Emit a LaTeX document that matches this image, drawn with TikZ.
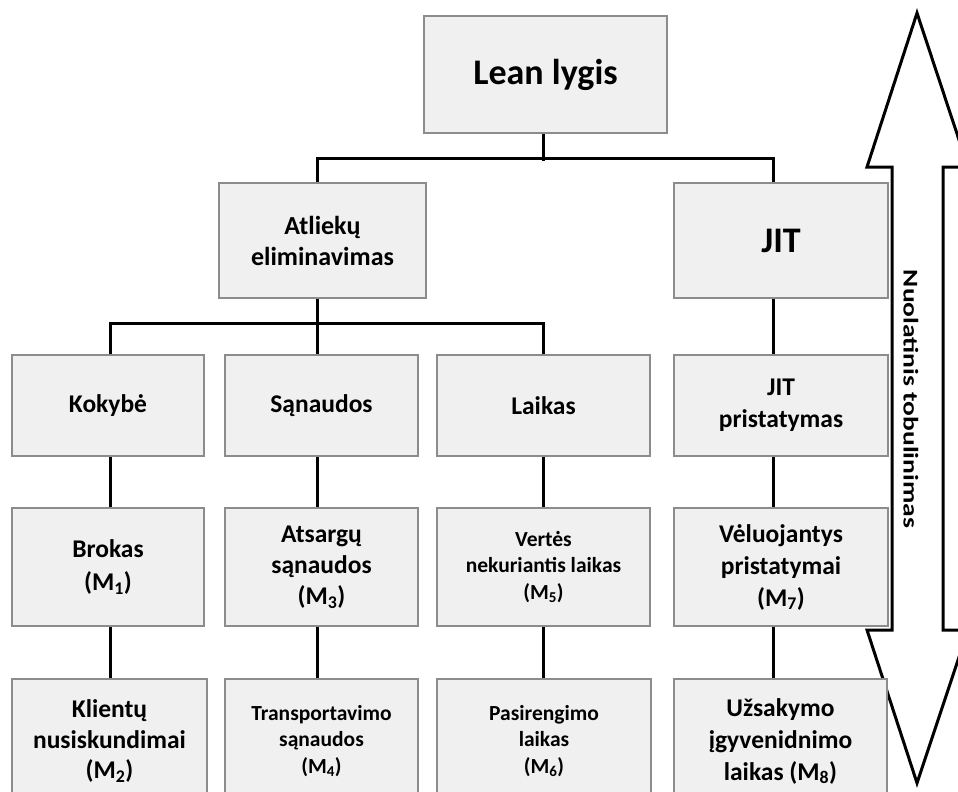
\documentclass[tikz,border=0pt]{standalone}
\usepackage{fontspec}
\setmainfont{Carlito}
\definecolor{boxfill}{HTML}{F0F0F0}
\definecolor{boxedge}{HTML}{8C8C8C}
\tikzset{
  box/.style={rectangle, draw=boxedge, fill=boxfill, line width=2.6pt,
    inner sep=0pt, align=center,
    font=\bfseries\fontsize{25.5}{32}\selectfont},
  smalltext/.style={font=\bfseries\fontsize{21.5}{26.5}\selectfont},
  bigtext/.style={font=\bfseries\fontsize{36}{40}\selectfont},
  link/.style={line width=3pt, draw=black},
  bigarrow/.style={line width=3pt, draw=black, fill=white, line join=miter},
}
\begin{document}
\begin{tikzpicture}[x=1pt, y=-1pt]
\useasboundingbox (0,0) rectangle (958,792);
\clip (0,0) rectangle (958,792);
\fill[white] (0,0) rectangle (958,792);

% double-headed improvement arrow on the right
\draw[bigarrow] (917,13) -- (968,167) -- (943,167) -- (943,630) -- (968,630)
  -- (917,783) -- (867,630) -- (892,630) -- (892,167) -- (867,167) -- cycle;
\node[font=\bfseries\fontsize{21}{24}\selectfont, rotate=-90, inner sep=0pt]
  (improve) at (911,399) {\scalebox{1.31}[1]{Nuolatinis tobulinimas}};

% top level
\node[box, bigtext, minimum width=243, minimum height=117] (lean) at (545.5,74.5) {Lean lygis};

% second level
\node[box, font=\bfseries\fontsize{26}{31}\selectfont, minimum width=207, minimum height=115] (atl) at (322.5,240.5) {Atliekų\\eliminavimas};
\node[box, bigtext, minimum width=214, minimum height=115] (jit) at (781,240.5) {JIT};

% third level
\node[box, minimum width=192, minimum height=101] (kok) at (108,405.5) {Kokybė};
\node[box, minimum width=193, minimum height=101] (san) at (321.5,405.5) {Sąnaudos};
\node[box, minimum width=213, minimum height=101] (lai) at (543.5,405.5) {Laikas};
\node[box, minimum width=214, minimum height=101] (jitp) at (781,405.5) {JIT\\pristatymas};

% fourth level
\node[box, minimum width=192, minimum height=118, font=\bfseries\fontsize{25.5}{33}\selectfont] (m1) at (108,567) {Brokas\\(M\textsubscript{1})};
\node[box, minimum width=193, minimum height=118, font=\bfseries\fontsize{25.5}{31}\selectfont] (m3) at (321.5,567) {Atsargų\\sąnaudos\\(M\textsubscript{3})};
\node[box, smalltext, minimum width=213, minimum height=118] (m5) at (543.5,567) {Vertės\\nekuriantis laikas\\(M\textsubscript{5})};
\node[box, minimum width=214, minimum height=118] (m7) at (781,567) {Vėluojantys\\pristatymai\\(M\textsubscript{7})};

% fifth level (runs past the lower edge)
\node[box, minimum width=195, minimum height=124, font=\bfseries\fontsize{25.5}{30.5}\selectfont] (m2) at (109.5,741) {Klientų\\nusiskundimai\\(M\textsubscript{2})};
\node[box, smalltext, minimum width=193, minimum height=124] (m4) at (321.5,741) {Transportavimo\\sąnaudos\\(M\textsubscript{4})};
\node[box, smalltext, minimum width=214, minimum height=124] (m6) at (544,741) {Pasirengimo\\laikas\\(M\textsubscript{6})};
\node[box, minimum width=213, minimum height=124] (m8) at (780.5,741) {Užsakymo\\įgyvenidnimo\\laikas (M\textsubscript{8})};

% tree connectors
\draw[link] ([xshift=-2.5]lean.south) -- ++(0,27);
\draw[link] ([xshift=-5.5]atl.north) -- ++(0,-23) -| ([xshift=-8]jit.north);
\draw[link] ([xshift=-5.5]atl.south) -- ([xshift=-4.5]san.north);
\draw[link] ([xshift=2]kok.north) -- ++(0,-30) -| ([xshift=-0.5]lai.north);

\draw[link] ([xshift=2]kok.south) -- ([xshift=2]m1.north);
\draw[link] ([xshift=2]m1.south) -- ([xshift=0.5]m2.north);
\draw[link] ([xshift=-4.5]san.south) -- ([xshift=-4.5]m3.north);
\draw[link] ([xshift=-4.5]m3.south) -- ([xshift=-4.5]m4.north);
\draw[link] ([xshift=-0.5]lai.south) -- ([xshift=-0.5]m5.north);
\draw[link] ([xshift=-0.5]m5.south) -- ([xshift=-1]m6.north);
\draw[link] ([xshift=-8]jit.south) -- ([xshift=-8]jitp.north);
\draw[link] ([xshift=-8]jitp.south) -- ([xshift=-8]m7.north);
\draw[link] ([xshift=-8]m7.south) -- ([xshift=-7.5]m8.north);
\end{tikzpicture}
\end{document}
